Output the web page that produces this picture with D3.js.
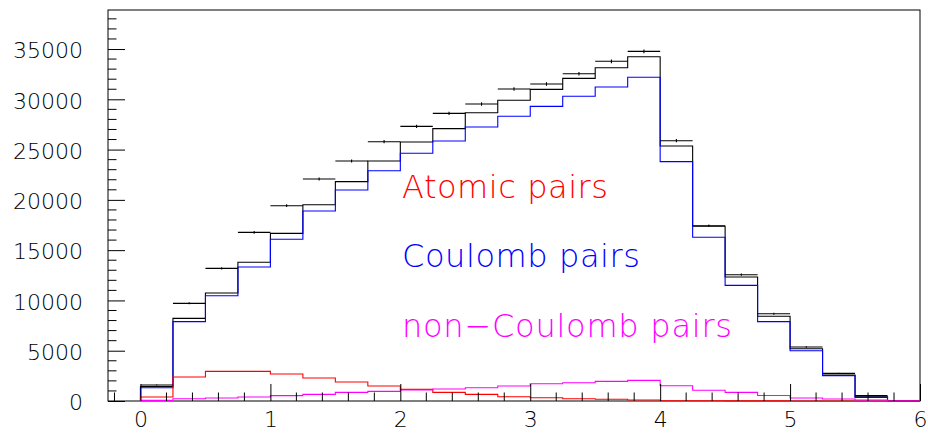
<!DOCTYPE html>
<html>
<head>
<meta charset="utf-8">
<script src="https://cdn.jsdelivr.net/npm/d3@7"></script>
<style>
  html, body { margin: 0; padding: 0; background: #fff; }
  svg { display: block; }
  text { font-family: "DejaVu Sans", "Lato", sans-serif; font-weight: 200; }
</style>
</head>
<body>
<svg id="chart" width="928" height="433"></svg>
<script>
// Histogram binning: 0.25-wide bins starting at 0
const binStart = 0;
const binWidth = 0.25;

// Measured spectrum (points with statistical errors)
const dataCounts = [1590, 9710, 13190, 16770, 19420, 22070, 23860, 25780, 27310, 28600, 29530, 31020,
                    31520, 32540, 33780, 34770, 25880, 17430, 12560, 8680, 5370, 2750, 530, 0];
const dataErrors = [40, 99, 115, 129, 139, 149, 154, 161, 165, 169, 172, 176,
                    178, 180, 184, 186, 161, 132, 112, 93, 73, 52, 23, 0];

// Total model
const totalModel = [1440, 8220, 10740, 13790, 16670, 19520, 21810, 23860, 25750, 27080, 28670, 29900,
                    30990, 32080, 33140, 34230, 25350, 17370, 12330, 8420, 5200, 2590, 430, 0];

// Components
const coulombPairs = [1320, 7890, 10470, 13320, 16080, 18890, 20980, 22900, 24630, 25850, 27240, 28310,
                      29300, 30300, 31220, 32190, 23800, 16280, 11500, 7890, 5000, 2520, 360, 0];
const atomicPairs = [400, 2390, 2950, 2950, 2680, 2290, 1890, 1490, 1160, 860, 660, 430,
                     330, 230, 170, 100, 30, 20, 10, 10, 0, 0, 0, 0];
const nonCoulombPairs = [60, 230, 300, 400, 530, 660, 860, 960, 1090, 1190, 1320, 1490,
                         1720, 1820, 1950, 2050, 1510, 1070, 860, 550, 300, 200, 100, 0];

// Axis ranges and tick labels
const xDomain = [-0.25, 6];
const yDomain = [0, 38880];
const xTickLabels = [0, 1, 2, 3, 4, 5, 6];
const yTickLabels = [0, 5000, 10000, 15000, 20000, 25000, 30000, 35000];

// Legend texts
const legendItems = [
  { label: "Atomic pairs", color: "#ff0000" },
  { label: "Coulomb pairs", color: "#0000ff" },
  { label: "non\u2212Coulomb pairs", color: "#ff00ff" }
];

const W = 928, H = 433;
const margin = { left: 108, right: 8, top: 10, bottom: 32 };
const svg = d3.select("#chart");

const x = d3.scaleLinear().domain(xDomain).range([margin.left, W - margin.right]);
const y = d3.scaleLinear().domain(yDomain).range([H - margin.bottom, margin.top]);

// Frame
svg.append("rect")
  .attr("x", x(xDomain[0])).attr("y", y(yDomain[1]))
  .attr("width", x(xDomain[1]) - x(xDomain[0]))
  .attr("height", y(yDomain[0]) - y(yDomain[1]))
  .attr("fill", "none").attr("stroke", "#000").attr("stroke-width", 1);

// Histogram outline as a step path
function stepPoints(values) {
  const pts = [[binStart, 0]];
  values.forEach((v, i) => pts.push([binStart + i * binWidth, v]));
  pts.push([binStart + values.length * binWidth, values[values.length - 1]]);
  return pts;
}
const stepLine = d3.line()
  .x(d => x(d[0]))
  .y(d => y(d[1]))
  .curve(d3.curveStepAfter);

const plot = svg.append("g");
function drawHist(values, color) {
  plot.append("path")
    .attr("d", stepLine(stepPoints(values)))
    .attr("fill", "none")
    .attr("stroke", color)
    .attr("stroke-width", 1.1);
}
drawHist(totalModel, "#000000");
drawHist(coulombPairs, "#0000ff");
drawHist(atomicPairs, "#ff0000");
drawHist(nonCoulombPairs, "#ff00ff");

// Data points: bin-wide horizontal bars with vertical error bars
const pts = plot.append("g").attr("stroke", "#000").attr("stroke-width", 1.1);
dataCounts.forEach((v, i) => {
  if (v <= 0) return;
  const x0 = binStart + i * binWidth, x1 = x0 + binWidth, xc = x0 + binWidth / 2;
  pts.append("line")
    .attr("x1", x(x0)).attr("x2", x(x1))
    .attr("y1", y(v)).attr("y2", y(v));
  pts.append("line")
    .attr("x1", x(xc)).attr("x2", x(xc))
    .attr("y1", y(v - dataErrors[i])).attr("y2", y(v + dataErrors[i]));
});

// Axes (ticks drawn inward, as on a ROOT frame)
const axisColor = "#000";
const xAxis = d3.axisBottom(x)
  .tickValues(xTickLabels)
  .tickFormat(d3.format("d"))
  .tickSize(-17).tickPadding(10);
const gx = svg.append("g").attr("transform", `translate(0,${y(0)})`).call(xAxis);
gx.select(".domain").remove();
gx.selectAll(".tick line").attr("stroke", axisColor);
gx.selectAll(".tick text").attr("font-size", 22).attr("fill", "#000").attr("dy", "0.71em").attr("y", 10);

const xMinor = d3.range(-0.2, 6.0001, 0.2).filter(v => Math.abs(v - Math.round(v)) > 1e-6);
svg.append("g").selectAll("line").data(xMinor).join("line")
  .attr("x1", d => x(d)).attr("x2", d => x(d))
  .attr("y1", y(0)).attr("y2", y(0) - 8.5)
  .attr("stroke", axisColor);

const yAxis = d3.axisLeft(y)
  .tickValues(yTickLabels)
  .tickFormat(d3.format("d"))
  .tickSize(-17).tickPadding(25);
const gy = svg.append("g").attr("transform", `translate(${x(xDomain[0])},0)`).call(yAxis);
gy.select(".domain").remove();
gy.selectAll(".tick line").attr("stroke", axisColor);
gy.selectAll(".tick text").attr("font-size", 22).attr("fill", "#000").attr("dy", "0.4em");

const yMinor = d3.range(1000, yDomain[1], 1000).filter(v => v % 5000 !== 0);
svg.append("g").selectAll("line").data(yMinor).join("line")
  .attr("x1", x(xDomain[0])).attr("x2", x(xDomain[0]) + 8.5)
  .attr("y1", d => y(d)).attr("y2", d => y(d))
  .attr("stroke", axisColor);

// Legend labels
const legendX = 402;
const legendBaselines = [198, 267, 337];
const legendWidths = [206, 238, 330];
svg.append("g").selectAll("text").data(legendItems).join("text")
  .attr("x", legendX)
  .attr("y", (d, i) => legendBaselines[i])
  .attr("fill", d => d.color)
  .attr("font-size", 32)
  .attr("textLength", (d, i) => legendWidths[i])
  .attr("lengthAdjust", "spacing")
  .text(d => d.label);
</script>
</body>
</html>
